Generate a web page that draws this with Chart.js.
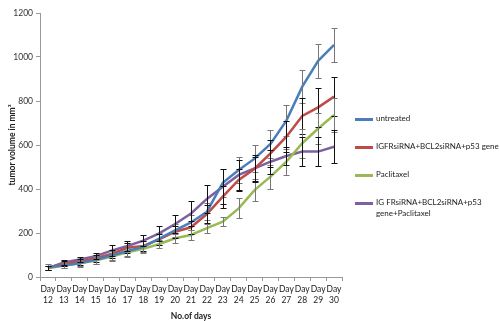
<!DOCTYPE html>
<html>
<head>
<meta charset="utf-8">
<script src="https://cdn.jsdelivr.net/npm/chart.js@4/dist/chart.umd.min.js"></script>
<style>
  body { margin: 0; background: #fff; }
  #wrap { position: relative; width: 500px; height: 321px; }
  #legend { position: absolute; left: 355px; top: 113px; font-family: Lato, "DejaVu Sans", sans-serif; font-size: 8px; color: #222; }
  .item { position: absolute; padding-left: 21px; line-height: 11px; white-space: nowrap; }
  .item span { position: absolute; left: 0; top: 5px; width: 18px; height: 3px; }
</style>
</head>
<body>
<div id="wrap">
  <canvas id="chart" width="500" height="321"></canvas>
  <div id="legend"></div>
</div>
<script>
const days = ["12","13","14","15","16","17","18","19","20","21","22","23","24","25","26","27","28","29","30"];

const seriesNames = ["untreated", "IGFRsiRNA+BCL2siRNA+p53 gene", "Paclitaxel", "IG FRsiRNA+BCL2siRNA+p53 gene+Paclitaxel"];
const colors = ["#4a7ebb", "#be4b48", "#98b954", "#7d60a0"];

const untreated = [45, 52, 62, 78, 98, 118, 137, 174, 212, 248, 297, 428, 486, 538, 605, 711, 865, 983, 1055];
const sirna     = [42, 60, 70, 85, 105, 133, 141, 171, 206, 226, 286, 365, 441, 492, 562, 638, 732, 771, 820];
const paclitaxel= [40, 52, 62, 75, 93, 112, 128, 150, 176, 191, 222, 251, 312, 395, 456, 524, 608, 675, 736];
const combined  = [40, 66, 80, 95, 120, 141, 165, 198, 241, 289, 355, 410, 464, 494, 524, 550, 570, 570, 592];

const errUntreated  = [12, 12, 15, 18, 22, 25, 25, 28, 30, 35, 40, 65, 60, 60, 65, 70, 75, 77, 77];
const errSirna      = [10, 12, 14, 16, 20, 22, 22, 25, 28, 30, 40, 50, 50, 55, 60, 70, 80, 90, 89];
const errPaclitaxel = [8, 10, 12, 15, 18, 18, 18, 20, 20, 22, 20, 20, 45, 50, 55, 60, 65, 70, 77];
const errCombined   = [8, 10, 12, 15, 25, 22, 25, 35, 40, 55, 65, 80, 70, 60, 55, 40, 65, 65, 74];

const yTicks = [0, 200, 400, 600, 800, 1000, 1200];

const values = [untreated, sirna, paclitaxel, combined];
const errors = [errUntreated, errSirna, errPaclitaxel, errCombined];
const barColors = ["#777", "#111", "#777", "#111"];

const font = "Lato, 'DejaVu Sans', sans-serif";

// error bars drawn with the chart scales
const errorBars = {
  id: "errorBars",
  afterDatasetsDraw(chart) {
    const ctx = chart.ctx;
    const x = chart.scales.x, y = chart.scales.y;
    ctx.save();
    ctx.lineWidth = 1;
    values.forEach((vals, s) => {
      ctx.strokeStyle = barColors[s];
      vals.forEach((v, i) => {
        const px = Math.round(x.getPixelForValue(i)) + 0.5;
        const top = Math.round(y.getPixelForValue(v + errors[s][i])) + 0.5;
        const bot = Math.round(y.getPixelForValue(v - errors[s][i])) + 0.5;
        ctx.beginPath();
        ctx.moveTo(px, top); ctx.lineTo(px, bot);
        ctx.moveTo(px - 3, top); ctx.lineTo(px + 3, top);
        ctx.moveTo(px - 3, bot); ctx.lineTo(px + 3, bot);
        ctx.stroke();
      });
    });
    ctx.restore();
  }
};

new Chart(document.getElementById("chart").getContext("2d"), {
  type: "line",
  data: {
    labels: days.map(d => ["Day", d]),
    datasets: values.map((vals, s) => ({
      label: seriesNames[s],
      data: vals,
      borderColor: colors[s],
      backgroundColor: colors[s],
      borderWidth: 2.5,
      pointRadius: 0,
      tension: 0
    }))
  },
  options: {
    responsive: false,
    animation: false,
    layout: { padding: { top: 13, right: 158, left: 0, bottom: 0 } },
    plugins: { legend: { display: false }, tooltip: { enabled: false } },
    scales: {
      x: {
        offset: true,
        afterFit: s => { s.height = 44; },
        grid: { offset: true, drawOnChartArea: false, drawTicks: true, tickLength: 4, color: "#999" },
        border: { color: "#999" },
        ticks: { color: "#222", font: { family: font, size: 8.5, lineHeight: 1.3 }, maxRotation: 0, autoSkip: false, padding: 3 },
        title: { display: true, text: "No.of days", color: "#222", font: { family: font, size: 8.5, weight: "bold" }, padding: { top: 2, bottom: 0 } }
      },
      y: {
        min: 0,
        max: 1200,
        afterFit: s => { s.width = 40; },
        afterBuildTicks: s => { s.ticks = yTicks.map(v => ({ value: v })); },
        grid: { drawOnChartArea: false, drawTicks: true, tickLength: 4, color: "#999" },
        border: { color: "#999" },
        ticks: { color: "#333", font: { family: font, size: 8.5 }, padding: 3, callback: v => String(v) },
        title: { display: true, text: "tumor volume in mm\u00b3", color: "#222", font: { family: font, size: 8.5, weight: "bold" }, padding: { top: 7, bottom: 2 } }
      }
    }
  },
  plugins: [errorBars]
});

const legend = document.getElementById("legend");
const legendTops = [0, 28, 56, 84];
seriesNames.forEach((name, s) => {
  const div = document.createElement("div");
  div.className = "item";
  div.style.top = legendTops[s] + "px";
  div.innerHTML = `<span style="background:${colors[s]}"></span>` + (s === 3 ? "IG FRsiRNA+BCL2siRNA+p53<br>gene+Paclitaxel" : name);
  legend.appendChild(div);
});
</script>
</body>
</html>
